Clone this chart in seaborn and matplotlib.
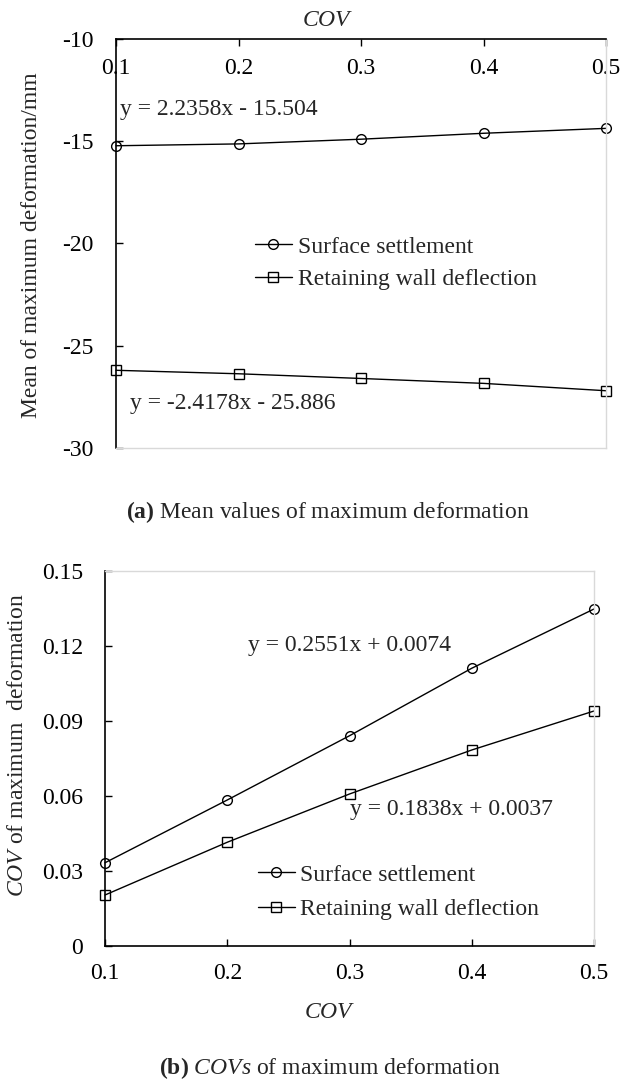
import numpy as np
import pandas as pd
import matplotlib
matplotlib.use("Agg")
import matplotlib.pyplot as plt
from matplotlib.lines import Line2D
import seaborn as sns

# ---------------- data ----------------
cov = [0.1, 0.2, 0.3, 0.4, 0.5]
series_names = ["Surface settlement", "Retaining wall deflection"]
mean_surface = [-15.22, -15.13, -14.90, -14.61, -14.37]
mean_wall = [-26.20, -26.37, -26.60, -26.84, -27.20]
covs_surface = [0.0333, 0.0584, 0.0841, 0.1111, 0.1348]
covs_wall = [0.0204, 0.0415, 0.0608, 0.0784, 0.0940]
eq_top = ["y = 2.2358x - 15.504", "y = -2.4178x - 25.886"]
eq_bot = ["y = 0.2551x + 0.0074", "y = 0.1838x + 0.0037"]
xticks = [0.1, 0.2, 0.3, 0.4, 0.5]
xticklabels = ["0.1", "0.2", "0.3", "0.4", "0.5"]
yticks_top = [-30, -25, -20, -15, -10]
yticklabels_top = ["-30", "-25", "-20", "-15", "-10"]
yticks_bot = [0, 0.03, 0.06, 0.09, 0.12, 0.15]
yticklabels_bot = ["0", "0.03", "0.06", "0.09", "0.12", "0.15"]

sns.set_theme(style="white")
plt.rcParams["font.family"] = ["Liberation Serif", "DejaVu Serif"]
plt.rcParams["mathtext.fontset"] = "custom"
plt.rcParams["mathtext.rm"] = "Liberation Serif"
plt.rcParams["mathtext.it"] = "Liberation Serif:italic"
plt.rcParams["mathtext.bf"] = "Liberation Serif:bold"

FS = 17
W, H = 624, 1085
fig = plt.figure(figsize=(W / 100, H / 100), dpi=100)

def fx(px):
    return px / W

def fy(py):
    return 1 - py / H

GRAY = "#d9d9d9"
markers = {"Surface settlement": "o", "Retaining wall deflection": "s"}

def draw(ax, vals_a, vals_b):
    df = pd.DataFrame({
        "cov": cov * 2,
        "val": list(vals_a) + list(vals_b),
        "series": [series_names[0]] * 5 + [series_names[1]] * 5,
    })
    sns.lineplot(data=df, x="cov", y="val", style="series", markers=markers,
                 dashes=False, color="black", linewidth=1.0, markersize=7,
                 markerfacecolor="none", markeredgecolor="black",
                 markeredgewidth=1.0, ax=ax, legend=False, clip_on=False)
    ax.set_xlim(0.1, 0.5)
    ax.set_xticks(xticks)
    ax.set_xticklabels(xticklabels)
    ax.set_xlabel("")
    ax.set_ylabel("")
    ax.grid(False)
    handles = [Line2D([], [], color="black", lw=1.0, marker=markers[n], markersize=7,
                      markerfacecolor="none", markeredgecolor="black", markeredgewidth=1.0)
               for n in series_names]
    return handles

# ---------------- top panel ----------------
ax1 = fig.add_axes([fx(116), fy(448), fx(606) - fx(116), fy(39) - fy(448)])
h = draw(ax1, mean_surface, mean_wall)
ax1.set_ylim(-30, -10)
ax1.set_yticks(yticks_top)
ax1.set_yticklabels(yticklabels_top)
ax1.xaxis.tick_top()
ax1.tick_params(axis="x", direction="in", length=5, width=1, pad=-29,
                labelsize=FS, colors="black", top=True, bottom=False)
ax1.tick_params(axis="y", direction="in", length=5, width=1, pad=16,
                labelsize=FS, colors="black", left=True)
for s in ["top", "left"]:
    ax1.spines[s].set_color("black")
    ax1.spines[s].set_linewidth(1.2)
for s in ["bottom", "right"]:
    ax1.spines[s].set_color(GRAY)
    ax1.spines[s].set_linewidth(1.0)
ax1.legend(h, series_names, loc="center left", frameon=False, fontsize=FS,
           bbox_to_anchor=(fx(255), fy(263)), bbox_transform=fig.transFigure,
           borderpad=0, borderaxespad=0, handlelength=1.55, handletextpad=0.25,
           labelspacing=0.45)
fig.text(fx(328), fy(20), r"$\mathit{COV}$", fontsize=FS, ha="center", va="center")
fig.text(fx(32), fy(245), "Mean of maximum deformation/mm", fontsize=FS,
         rotation=90, ha="center", va="center")
fig.text(fx(120), fy(110), eq_top[0], fontsize=FS, ha="left", va="center")
fig.text(fx(130), fy(404), eq_top[1], fontsize=FS, ha="left", va="center")
fig.text(fx(328), fy(512), r"$\mathbf{(a)}$ Mean values of maximum deformation",
         fontsize=FS, ha="center", va="center")

# ---------------- bottom panel ----------------
ax2 = fig.add_axes([fx(105), fy(946), fx(594) - fx(105), fy(571) - fy(946)])
h = draw(ax2, covs_surface, covs_wall)
ax2.set_ylim(0, 0.15)
ax2.set_yticks(yticks_bot)
ax2.set_yticklabels(yticklabels_bot)
ax2.tick_params(axis="x", direction="in", length=5, width=1, pad=12,
                labelsize=FS, colors="black", bottom=True)
ax2.tick_params(axis="y", direction="in", length=5, width=1, pad=16,
                labelsize=FS, colors="black", left=True)
for s in ["bottom", "left"]:
    ax2.spines[s].set_color("black")
    ax2.spines[s].set_linewidth(1.2)
for s in ["top", "right"]:
    ax2.spines[s].set_color(GRAY)
    ax2.spines[s].set_linewidth(1.0)
ax2.legend(h, series_names, loc="center left", frameon=False, fontsize=FS,
           bbox_to_anchor=(fx(258), fy(892)), bbox_transform=fig.transFigure,
           borderpad=0, borderaxespad=0, handlelength=1.55, handletextpad=0.25,
           labelspacing=0.55)
fig.text(fx(330), fy(1012), r"$\mathit{COV}$", fontsize=FS, ha="center", va="center")
fig.text(fx(18), fy(745), r"$\mathit{COV}$ of maximum  deformation", fontsize=FS,
         rotation=90, ha="center", va="center")
fig.text(fx(248), fy(646), eq_bot[0], fontsize=FS, ha="left", va="center")
fig.text(fx(350), fy(810), eq_bot[1], fontsize=FS, ha="left", va="center")
fig.text(fx(330), fy(1068), r"$\mathbf{(b)}$ $\mathit{COVs}$ of maximum deformation",
         fontsize=FS, ha="center", va="center")

fig.savefig("out.png", dpi=100, facecolor="white")
